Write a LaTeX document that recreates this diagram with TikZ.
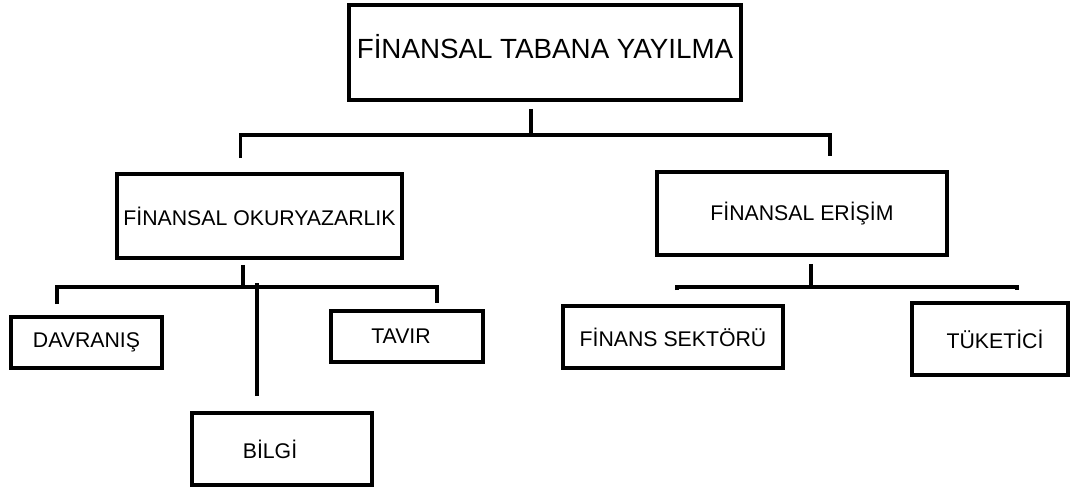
\documentclass[tikz,border=0pt]{standalone}
\usepackage{fontspec}
\setmainfont{Liberation Sans}
\usetikzlibrary{positioning,calc}

\begin{document}
\begin{tikzpicture}[
    x=0.02cm, y=-0.02cm,
    box/.style={draw, line width=2.2pt, inner sep=0pt, font=\fontsize{12.1}{14}\selectfont},
    link/.style={line width=1.8pt}
]
\useasboundingbox (0,0) rectangle (1071,488);

% boxes
\node[box, minimum width=7.84cm, minimum height=1.9cm, text depth=0.26cm, font=\fontsize{15.8}{18}\selectfont] (top) at (545,52.5) {FİNANSAL TABANA YAYILMA};
\node[box, minimum width=5.7cm, minimum height=1.68cm] (okur) at (259.5,216) {FİNANSAL OKURYAZARLIK};
\node[box, minimum width=5.8cm, minimum height=1.66cm] (erisim) at (802,213.5) {FİNANSAL ERİŞİM};
\node[box, minimum width=3.02cm, minimum height=1.02cm] (davranis) at (86.5,342.5) {DAVRANIŞ};
\node[box, minimum width=3.04cm, minimum height=1.02cm] (tavir) at (407,336.5) {TAVIR\hspace*{0.24cm}};
\node[box, minimum width=3.6cm, minimum height=1.44cm] (bilgi) at (282,449) {BİLGİ\hspace*{0.48cm}};
\node[box, minimum width=4.4cm, minimum height=1.24cm] (finans) at (673,337) {FİNANS SEKTÖRÜ};
\node[box, minimum width=3.12cm, minimum height=1.44cm] (tuketici) at (990,339) {\hspace*{0.2cm}TÜKETİCİ};

% connectors
\draw[link] ($(top.south)+(-14,7)$) -- ++(0,26) coordinate (j0);
\draw[link] ($(okur.north)+(-19,-14)$) |- (j0) -| ($(erisim.north)+(28,-14)$);

\draw[link] ($(okur.south)+(-16.5,5)$) -- ++(0,22) coordinate (j1);
\draw[link] ($(davranis.north)+(-29.5,-11)$) |- (j1) -| ($(tavir.north)+(30,-6)$);
\draw[link] ($(bilgi.north)+(-25,-15)$) -- ++(0,-113);

\draw[link] ($(erisim.south)+(9,7)$) -- ++(0,23) coordinate (j2);
\draw[link] ($(finans.north)+(4,-14)$) |- (j2) -| ($(tuketici.north)+(27,-11)$);
\end{tikzpicture}
\end{document}
